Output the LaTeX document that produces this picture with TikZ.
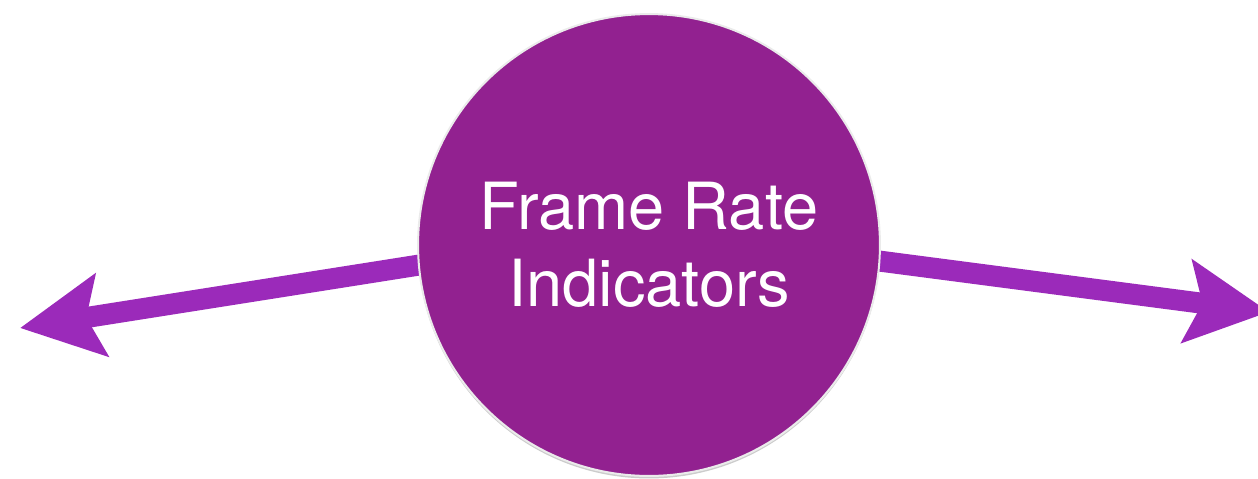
\documentclass[tikz,border=0pt]{standalone}
\usepackage{fontspec}
\setmainfont{TeX Gyre Heros}
\usetikzlibrary{arrows.meta, backgrounds, shadows}
\definecolor{frplum}{HTML}{922190}
\definecolor{frviolet}{HTML}{9B2ABA}

\begin{document}
\begin{tikzpicture}[x=0.02cm, y=-0.02cm,
    hub/.style={circle, fill=frplum, draw=black!8, line width=0.04cm,
                minimum size=9.24cm, inner sep=0pt, text=white, align=center,
                font=\fontsize{37}{44}\selectfont,
                drop shadow={shadow xshift=0pt, shadow yshift=-0.05cm,
                             opacity=0.2, fill=black}},
    arr/.style={-{Stealth[length=1.64cm, width=1.64cm, inset=0.3cm]},
                line width=0.42cm, frviolet, shorten <=-0.3cm}
  ]
    \useasboundingbox (0,0) rectangle (1258,478);
    \node[hub] (fr) at (649,245) {Frame Rate\\Indicators};
    \coordinate (ltip) at (20,328);
    \coordinate (rtip) at (1269,312);
    % arrows run out from under the circle
    \begin{scope}[on background layer]
      \draw[arr] (fr.185.7) -- (ltip);
      \draw[arr] (fr.-4) -- (rtip);
    \end{scope}
  \end{tikzpicture}
\end{document}
